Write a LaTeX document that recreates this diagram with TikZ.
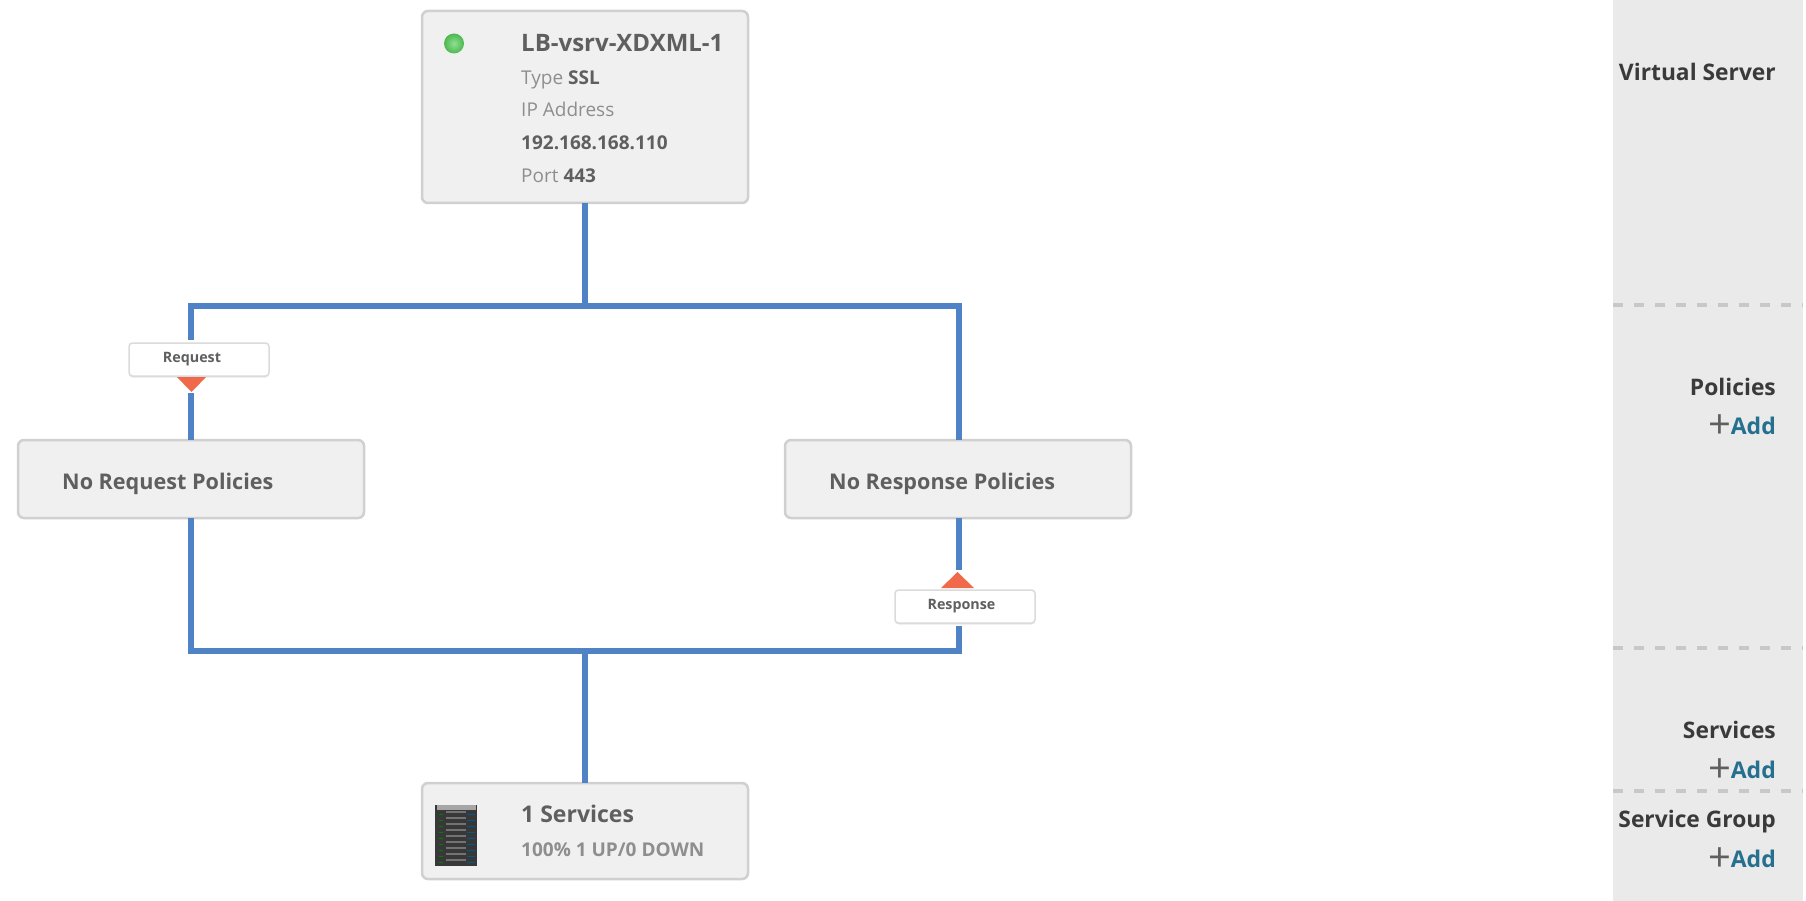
\documentclass[tikz,border=0pt]{standalone}
\usepackage{fontspec}
\setmainfont{Open Sans}
\usetikzlibrary{shadows}
\definecolor{wire}{HTML}{5082C6}
\definecolor{boxfill}{HTML}{F0F0F0}
\definecolor{boxline}{HTML}{D0D0D0}
\definecolor{side}{HTML}{EAEAEA}
\definecolor{dashc}{HTML}{C8C8C8}
\definecolor{tdark}{HTML}{5F5F5F}
\definecolor{tgray}{HTML}{8E8E8E}
\definecolor{tside}{HTML}{3A3A3A}
\definecolor{tadd}{HTML}{25708F}
\definecolor{tri}{HTML}{F0694A}
\definecolor{balla}{HTML}{8FE08F}
\definecolor{ballb}{HTML}{4DB850}
\tikzset{
  x=1pt,y=-1pt,
  wireline/.style={draw=wire,line width=6.5pt,line join=miter},
  card/.style={draw=boxline,fill=boxfill,line width=2.5pt,rounded corners=6pt,inner sep=0pt,outer sep=0pt,anchor=north west},
  tag/.style={draw=black!14,fill=white,line width=1.5pt,rounded corners=3.5pt,inner sep=0pt,outer sep=0pt,anchor=north west,minimum width=140pt,minimum height=33pt,
     font=\fontsize{14.3}{14.3}\selectfont\bfseries,text=tdark,drop shadow={shadow xshift=0pt,shadow yshift=-1.5pt,opacity=0.18}},
  title/.style={anchor=base west,inner sep=0pt,font=\fontsize{23}{23}\selectfont\bfseries,text=tdark},
  bigtitle/.style={title,font=\fontsize{24}{24}\selectfont\bfseries},
  midtitle/.style={title,font=\fontsize{21.6}{21.6}\selectfont\bfseries},
  detail/.style={anchor=base west,inner sep=0pt,font=\fontsize{19}{19}\selectfont,text=tgray},
  sidehead/.style={anchor=base east,inner sep=0pt,font=\fontsize{22.8}{22.8}\selectfont\bfseries,text=tside},
  sideadd/.style={anchor=base east,inner sep=0pt,font=\fontsize{23}{23}\selectfont\bfseries,text=tadd},
  sidedash/.style={draw=dashc,line width=3.5pt,dash pattern=on 10pt off 11pt},
  marker/.style={fill=tri,draw=none},
}
\newcommand{\plusadd}{\textcolor{tdark}{\fontsize{40}{40}\selectfont\mdseries\raisebox{-4pt}{+}}\hspace{-1pt}Add}
\begin{document}
\begin{tikzpicture}
\useasboundingbox (0,0) rectangle (1806,901);
\fill[white] (0,0) rectangle (1806,901);
% sidebar
\fill[side] (1613,0) rectangle (1803,901);
\draw[sidedash] (1613,305) -- (1803,305);
\draw[sidedash] (1613,648) -- (1803,648);
\draw[sidedash] (1613,791) -- (1803,791);
\node[sidehead] (shv) at (1776,81) {Virtual Server};
\node[sidehead] (shp) at (1776,395) {Policies};
\node[sideadd] (ap) at (1776,434) {\plusadd};
\node[sidehead] (shs) at (1776,738) {Services};
\node[sideadd] (as) at (1776,778) {\plusadd};
\node[sidehead] (shg) at (1776,827) {Service Group};
\node[sideadd] (ag) at (1776,867) {\plusadd};
% junctions
\coordinate (jt) at (585,306);
\coordinate (jb) at (585,651);
\coordinate (jtl) at (191,306);
\coordinate (jtr) at (959,306);
\coordinate (jbl) at (191,651);
\coordinate (jbr) at (959,651);
% cards
\node[card,minimum width=326pt,minimum height=192pt] (vs) at (422,11) {};
\node[card,minimum width=346pt,minimum height=78pt] (req) at (18,440) {};
\node[card,minimum width=346pt,minimum height=78pt] (res) at (785,440) {};
\node[card,minimum width=326pt,minimum height=96pt] (svc) at (422,783) {};
% connectors
\draw[wireline] (vs.south) -- (jt);
\draw[wireline] (req.north -| jtl) -- (jtl) -- (jtr) -- (res.north -| jtr);
\draw[wireline] (req.south -| jbl) -- (jbl) -- (jbr) -- (res.south -| jbr);
\draw[wireline] (jb) -- (svc.north);
% tags
\fill[white] (128,340) rectangle (268,392.5);
\fill[white] (894,570) rectangle (1034,626);
\fill[marker] (175,375) -- (208,375) -- (191.5,392) -- cycle;
\fill[marker] (941,588) -- (974,588) -- (957.5,572) -- cycle;
\node[tag] (treq) at (129,343) {\raisebox{-2pt}{Request}\hspace*{14pt}};
\node[tag] (tres) at (895,590) {\raisebox{-2pt}{Response}\hspace*{7pt}};
% card texts
\shade[inner color=balla,outer color=ballb] (454,43.5) circle (10pt);
\node[bigtitle] (t1) at (521,52) {LB-vsrv-XDXML-1};
\node[detail] (t2) at (521,85) {Type \textcolor{tdark}{\bfseries SSL}};
\node[detail] (t3) at (521,117) {IP Address};
\node[detail,text=tdark,font=\fontsize{19}{19}\selectfont\bfseries] (t4) at (521,150) {192.168.168.110};
\node[detail] (t5) at (521,183) {Port \textcolor{tdark}{\bfseries 443}};
\node[midtitle] (q1) at (62,489) {No Request Policies};
\node[midtitle] (r1) at (829,489) {No Response Policies};
\node[title] (s1) at (521,822) {1 Services};
\node[detail,font=\fontsize{19}{19}\selectfont\bfseries] (s2) at (521,856) {100\% 1 UP/0 DOWN};
% server rack icon
\fill[black!78] (435,805) rectangle (477,866);
\fill[black!35] (437,805) rectangle (476,810);
\foreach \yy in {811,817,...,859} {
  \fill[black!55] (446,\yy) rectangle (466,\yy+1.5);
  \fill[green!50!black] (439,\yy+2.5) rectangle (443,\yy+4);
  \fill[blue!35!cyan!55!black] (467,\yy+2.5) rectangle (475,\yy+4);
}
\end{tikzpicture}
\end{document}
